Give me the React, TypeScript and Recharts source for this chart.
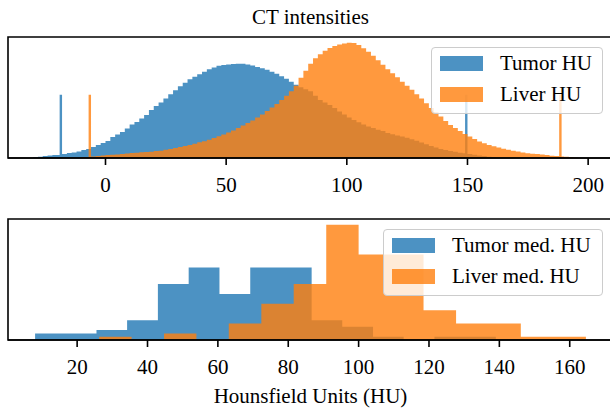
import React from 'react';
import { ComposedChart, Area, XAxis, YAxis, ReferenceArea, Legend } from 'recharts';

const FONT = 'Liberation Serif, Times New Roman, serif';
const BLUE = '#1f77b4';
const ORANGE = '#ff7f0e';

// Top panel: [left bin edge (HU), bar height]; bins are 2 HU, the clipped spikes are 1 HU
const TUMOR_HU: [number, number][] = [
  [-30, 0.7], [-28, 1.3], [-26, 2], [-24, 2.5], [-22, 3], [-20, 3], [-19, 63], [-18, 4],
  [-16, 5], [-14, 5.5], [-12, 6.5], [-10, 8], [-8, 9], [-6, 11], [-4, 13], [-2, 15],
  [0, 17], [2, 21], [4, 23.5], [6, 26], [8, 29.5], [10, 33.5], [12, 36], [14, 39.5],
  [16, 43], [18, 48], [20, 52], [22, 55.5], [24, 59.5], [26, 63.5], [28, 67.5], [30, 71.5],
  [32, 75], [34, 78.5], [36, 81], [38, 83.5], [40, 86], [42, 88.5], [44, 90.3], [46, 92],
  [48, 92.8], [50, 93.3], [52, 93.8], [54, 94], [56, 94], [58, 93.3], [60, 92.3], [62, 90.7],
  [64, 89.5], [66, 88], [68, 86], [70, 84], [72, 81.5], [74, 79], [76, 76], [78, 73],
  [80, 70.5], [82, 68.5], [84, 66.5], [86, 62], [88, 58], [90, 55.5], [92, 53], [94, 50],
  [96, 46.5], [98, 43.5], [100, 40.5], [102, 38], [104, 35.7], [106, 33.5], [108, 31.5], [110, 30],
  [112, 28.3], [114, 27], [116, 25], [118, 23.8], [120, 22.5], [122, 21.5], [124, 20.3], [126, 18.7],
  [128, 17.2], [130, 15.5], [132, 13.8], [134, 12], [136, 10.5], [138, 9], [140, 8], [142, 7],
  [144, 6.2], [146, 5.3], [148, 4.8], [149, 63], [150, 4], [152, 3.3], [154, 2.6], [156, 2],
  [158, 1.2], [160, 0.6], [162, 0],
];

const LIVER_HU: [number, number][] = [
  [-10, 0.7], [-8, 1], [-7, 63], [-6, 1.5], [-4, 2], [-2, 2.5], [0, 3], [2, 3.3],
  [4, 3.6], [6, 4], [8, 4.5], [10, 5], [12, 5.3], [14, 5.7], [16, 6], [18, 6.3],
  [20, 7], [22, 7.3], [24, 8.2], [26, 9], [28, 10], [30, 11], [32, 12], [34, 13],
  [36, 14.3], [38, 15.7], [40, 16.8], [42, 18.3], [44, 20], [46, 21.8], [48, 23.5], [50, 25.5],
  [52, 27.5], [54, 30], [56, 32.5], [58, 35], [60, 37.5], [62, 40.5], [64, 43.5], [66, 47],
  [68, 50.5], [70, 54], [72, 58], [74, 62], [76, 66.5], [78, 72], [80, 80], [82, 87],
  [84, 94], [86, 99.5], [88, 103.5], [90, 107], [92, 109.7], [94, 111.8], [96, 113.3], [98, 114.3],
  [100, 115], [102, 114.8], [104, 112.8], [106, 109.5], [108, 106], [110, 102], [112, 97.5], [114, 93],
  [116, 88.5], [118, 84.5], [120, 80.5], [122, 76], [124, 72], [126, 68], [128, 63.7], [130, 59.5],
  [132, 54.7], [134, 50], [136, 45.7], [138, 41.5], [140, 37], [142, 33], [144, 30], [146, 27],
  [148, 24], [150, 21.5], [152, 19], [154, 16.5], [156, 14.7], [158, 13], [160, 11.7], [162, 10.5],
  [164, 9.3], [166, 8.2], [168, 7.3], [170, 6.5], [172, 5.6], [174, 4.8], [176, 4.3], [178, 3.9],
  [180, 3.5], [182, 2.9], [184, 2.3], [186, 2], [188, 63], [189, 1.6], [190, 1.3], [192, 1.1],
  [194, 0.5], [196, 0],
];

// Bottom panel: bin edges and counts per patient
const TUMOR_MED_EDGES = [8.05, 16.78, 25.5, 34.2, 42.95, 51.7, 60.45, 69.2, 77.9, 86.65, 95.35, 104.1, 112.8, 121.55, 130.3, 139];
const TUMOR_MED_COUNTS = [2, 2, 3, 6, 17, 22, 14, 22, 22, 6, 4, 1, 0, 1, 1];
const LIVER_MED_EDGES = [26.26, 35.48, 44.7, 53.9, 63.1, 72.35, 81.55, 90.8, 100, 109.2, 118.45, 127.7, 136.9, 146.1, 155.35, 164.6];
const LIVER_MED_COUNTS = [1, 0, 2, 0, 5, 11, 17, 35, 26, 26, 9, 5, 5, 1, 1];

const TOP_TICKS = [0, 50, 100, 150, 200];
const BOTTOM_TICKS = [20, 40, 60, 80, 100, 120, 140, 160];
const TOP_DOMAIN: [number, number] = [-40.4, 210.3];
const BOTTOM_DOMAIN: [number, number] = [0.35, 172.3];
const TOP_YMAX = 115 * 1.05;
const BOTTOM_YMAX = 35 * 1.05;

const TOP_SERIES = [
  { key: 'tumor', name: 'Tumor HU', color: BLUE, points: TUMOR_HU },
  { key: 'liver', name: 'Liver HU', color: ORANGE, points: LIVER_HU },
];
const BOTTOM_SERIES = [
  { key: 'tumor', name: 'Tumor med. HU', color: BLUE, points: TUMOR_MED_EDGES.map((e, i) => [e, TUMOR_MED_COUNTS[i] ?? 0] as [number, number]) },
  { key: 'liver', name: 'Liver med. HU', color: ORANGE, points: LIVER_MED_EDGES.map((e, i) => [e, LIVER_MED_COUNTS[i] ?? 0] as [number, number]) },
];

type Row = { x: number; [k: string]: number | null };

// merge the step points of both series into one table, null where a series has no edge
function stepRows(series: { key: string; points: [number, number][] }[]): Row[] {
  const map = new Map<number, Row>();
  series.forEach(({ key, points }) =>
    points.forEach(([x, v]) => {
      const row = map.get(x) ?? { x };
      row[key] = v;
      map.set(x, row);
    })
  );
  const rows = [...map.values()].sort((a, b) => a.x - b.x);
  rows.forEach((r) => series.forEach((s) => { if (!(s.key in r)) r[s.key] = null; }));
  return rows;
}

const topRows = stepRows(TOP_SERIES);
const bottomRows = stepRows(BOTTOM_SERIES);

const LegendBox = ({ items, width }: { items: { name: string; color: string }[]; width: number }) => (
  <div
    style={{
      position: 'relative', width, height: 67, boxSizing: 'border-box',
      border: '1px solid #cccccc', borderRadius: 4, background: 'rgba(255,255,255,0.8)',
      fontFamily: FONT,
    }}
  >
    {items.map((it, i) => (
      <React.Fragment key={it.name}>
        <div style={{ position: 'absolute', left: 8, top: 8 + 31 * i, width: 43, height: 15, background: it.color, opacity: 0.8 }} />
        <div style={{ position: 'absolute', left: 68, top: 5 + 31 * i, fontSize: 21, lineHeight: '21px', whiteSpace: 'nowrap', color: '#000' }}>
          {it.name}
        </div>
      </React.Fragment>
    ))}
  </div>
);

const axisStyle = {
  type: 'number' as const,
  dataKey: 'x',
  allowDataOverflow: true,
  interval: 0 as const,
  tickSize: 7,
  tickMargin: 12,
  height: 40,
  axisLine: { stroke: '#000', strokeWidth: 1.6 },
  tickLine: { stroke: '#000', strokeWidth: 1.6 },
  tick: { fill: '#000', fontSize: 21, fontFamily: FONT },
};

function Panel({ rows, series, domain, ticks, ymax, height, margin, legendPos, legendWidth }: any) {
  return (
    <ComposedChart width={620} height={height} data={rows} margin={margin}>
      <XAxis {...axisStyle} domain={domain} ticks={ticks} />
      <YAxis hide type="number" domain={[0, ymax]} allowDataOverflow />
      {series.map((s: any) => (
        <Area
          key={s.key}
          dataKey={s.key}
          name={s.name}
          type="stepAfter"
          connectNulls
          fill={s.color}
          fillOpacity={0.8}
          stroke="none"
          dot={false}
          activeDot={false}
          isAnimationActive={false}
        />
      ))}
      {/* full box frame like matplotlib spines */}
      <ReferenceArea x1={domain[0]} x2={domain[1]} y1={0} y2={ymax} fill="none" stroke="#000" strokeWidth={1.6} />
      <Legend
        layout="vertical"
        verticalAlign="middle"
        align="center"
        wrapperStyle={{ left: legendPos[0], top: legendPos[1], width: legendWidth, height: 67 }}
        content={() => <LegendBox items={series} width={legendWidth} />}
      />
    </ComposedChart>
  );
}

const textStyle: React.CSSProperties = {
  position: 'absolute', left: 0, width: 621, textAlign: 'center',
  fontSize: 21, lineHeight: '21px', color: '#000', whiteSpace: 'nowrap',
};

export default function App() {
  return (
    <div style={{ position: 'absolute', left: 0, top: 0, width: 610, height: 410, overflow: 'hidden', background: '#fff', fontFamily: FONT }}>
      <div style={{ position: 'absolute', left: 0, top: 0 }}>
        <Panel
          rows={topRows} series={TOP_SERIES} domain={TOP_DOMAIN} ticks={TOP_TICKS} ymax={TOP_YMAX}
          height={200} margin={{ top: 37, right: 7, bottom: 2, left: 8 }}
          legendPos={[431, 47]} legendWidth={172}
        />
      </div>
      <div style={{ position: 'absolute', left: 0, top: 200 }}>
        <Panel
          rows={bottomRows} series={BOTTOM_SERIES} domain={BOTTOM_DOMAIN} ticks={BOTTOM_TICKS} ymax={BOTTOM_YMAX}
          height={210} margin={{ top: 19, right: 7, bottom: 30, left: 8 }}
          legendPos={[383, 29]} legendWidth={220}
        />
      </div>
      <div style={{ ...textStyle, top: 7 }}>CT intensities</div>
      <div style={{ ...textStyle, top: 386 }}>Hounsfield Units (HU)</div>
    </div>
  );
}
